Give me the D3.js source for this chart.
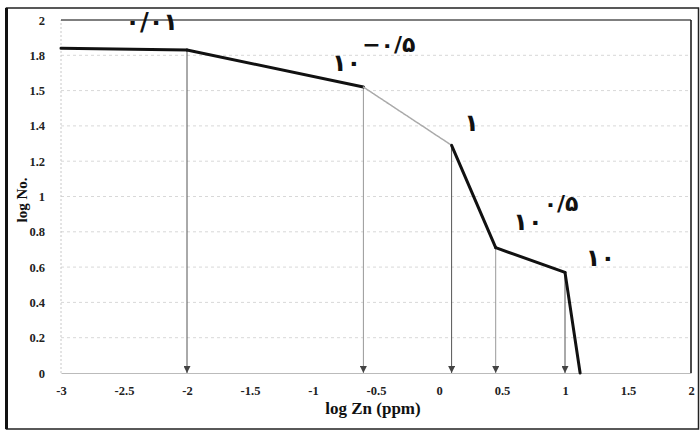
<!DOCTYPE html>
<html><head><meta charset="utf-8">
<script src="https://cdn.jsdelivr.net/npm/d3@7"></script>
<style>body{margin:0;background:#fff}svg{display:block}</style>
</head><body>
<script>
// Data
const logZn = [-3, -2, -0.6, 0.1, 0.45, 1.0, 1.12];
const logNo = [1.84, 1.83, 1.62, 1.29, 0.71, 0.57, 0];
const segStyle = ["dark", "dark", "light", "dark", "dark", "dark"];
const arrowX = [-2, -0.6, 0.1, 0.45, 1.0];
const arrowY = [1.83, 1.62, 1.29, 0.71, 0.57];
const xTicks = [-3, -2.5, -2, -1.5, -1, -0.5, 0, 0.5, 1, 1.5, 2];
const xTickLabels = ["-3", "-2.5", "-2", "-1.5", "-1", "-0.5", "0", "0.5", "1", "1.5", "2"];
const yTicks = [0, 0.2, 0.4, 0.6, 0.8, 1, 1.2, 1.4, 1.6, 1.8, 2];
const yTickLabels = ["0", "0.2", "0.4", "0.6", "0.8", "1", "1.2", "1.4", "1.5", "1.8", "2"];
// annotations: base text, exponent text, anchored in data coords
const annX = [-2.49, -0.85, 0.2, 0.59, 1.165];
const annY = [1.945, 1.71, 1.37, 0.81, 0.606];
const annBase = ["۰/۰۱", "۱۰", "۱", "۱۰", "۱۰"];
const annExp = ["", "−۰/۵", "", "۰/۵", ""];

const W = 700, H = 432;
const svg = d3.select("body").append("svg").attr("width", W).attr("height", H);
const x = d3.scaleLinear().domain([-3, 2]).range([61, 691]);
const y = d3.scaleLinear().domain([0, 2]).range([373, 20]);

// outer frame
svg.append("rect").attr("x", 6.5).attr("y", 8).attr("width", 692).attr("height", 421)
  .attr("fill", "none").attr("stroke", "#222").attr("stroke-width", 1.5);
svg.append("line").attr("x1", 6.5).attr("x2", 6.5).attr("y1", 8).attr("y2", 429)
  .attr("stroke", "#111").attr("stroke-width", 3);

// gridlines
svg.append("g").selectAll("line").data(yTicks.slice(1, -1)).join("line")
  .attr("x1", x(-3)).attr("x2", x(2)).attr("y1", d => y(d)).attr("y2", d => y(d))
  .attr("stroke", "#d8d8d8").attr("stroke-width", 1).attr("stroke-dasharray", "3,3");
svg.append("line").attr("x1", x(-3)).attr("x2", x(-3)).attr("y1", y(0)).attr("y2", y(2))
  .attr("stroke", "#c8c8c8").attr("stroke-dasharray", "2,2");

// plot border top & right
svg.append("line").attr("x1", x(-3)).attr("x2", x(2)).attr("y1", y(2)).attr("y2", y(2))
  .attr("stroke", "#555").attr("stroke-width", 1.5);
svg.append("line").attr("x1", x(2)).attr("x2", x(2)).attr("y1", y(2)).attr("y2", y(0))
  .attr("stroke", "#111").attr("stroke-width", 1.5);

// axes
const xAxis = d3.axisBottom(x).tickValues(xTicks).tickFormat((d, i) => xTickLabels[i]).tickSize(0).tickPadding(13);
const gx = svg.append("g").attr("transform", `translate(0,${y(0)})`).call(xAxis);
gx.select(".domain").attr("stroke", "#bbb");
gx.selectAll("text").attr("font-family", "Liberation Serif").attr("font-weight", "bold").attr("font-size", 12.5).attr("fill", "#222");

const yAxis = d3.axisLeft(y).tickValues(yTicks).tickFormat((d, i) => yTickLabels[i]).tickSize(0).tickPadding(16);
const gy = svg.append("g").attr("transform", `translate(${x(-3)},0)`).call(yAxis);
gy.select(".domain").remove();
gy.selectAll("text").attr("font-family", "Liberation Serif").attr("font-weight", "bold").attr("font-size", 12.5).attr("fill", "#222");

// arrowheads
svg.append("defs").append("marker").attr("id", "ah").attr("viewBox", "0 0 10 10")
  .attr("refX", 10).attr("refY", 5).attr("markerWidth", 7).attr("markerHeight", 7)
  .attr("orient", "auto").attr("markerUnits", "userSpaceOnUse")
  .append("path").attr("d", "M0,0L10,5L0,10z").attr("fill", "#444");

svg.append("g").selectAll("line").data(arrowX).join("line")
  .attr("x1", d => x(d)).attr("x2", d => x(d))
  .attr("y1", (d, i) => y(arrowY[i])).attr("y2", y(0))
  .attr("stroke", (d, i) => (i === 1 || i === 3) ? "#999" : "#555")
  .attr("stroke-width", 1)
  .attr("marker-end", "url(#ah)");

// curve segments
const segs = d3.range(logZn.length - 1);
svg.append("g").selectAll("line").data(segs).join("line")
  .attr("x1", i => x(logZn[i])).attr("y1", i => y(logNo[i]))
  .attr("x2", i => x(logZn[i + 1])).attr("y2", i => y(logNo[i + 1]))
  .attr("stroke", i => segStyle[i] === "light" ? "#aaa" : "#111")
  .attr("stroke-width", i => segStyle[i] === "light" ? 1.5 : 3)
  .attr("stroke-dasharray", i => segStyle[i] === "light" ? "3,1" : null)
  .attr("stroke-linecap", "round");

// annotations
const ann = svg.append("g").attr("font-family", "DejaVu Sans").attr("font-weight", "bold").attr("fill", "#111");
annBase.forEach((t, i) => {
  const tx = ann.append("text").attr("x", x(annX[i])).attr("y", y(annY[i]))
    .attr("font-size", 24).attr("direction", "ltr").text(t);
  if (annExp[i]) {
    const bb = tx.node().getBBox();
    ann.append("text").attr("x", bb.x + bb.width + 1).attr("y", y(annY[i]) - 19)
      .attr("font-size", 22).attr("direction", "ltr").text(annExp[i]);
  }
});

// axis titles
svg.append("text").attr("x", 373).attr("y", 414).attr("text-anchor", "middle")
  .attr("font-family", "Liberation Serif").attr("font-weight", "bold").attr("font-size", 17)
  .attr("fill", "#111").text("log Zn (ppm)");
svg.append("text").attr("transform", "translate(27,200) rotate(-90)").attr("text-anchor", "middle")
  .attr("font-family", "Liberation Serif").attr("font-weight", "bold").attr("font-size", 15)
  .attr("fill", "#111").text("log No.");
</script>
</body></html>
